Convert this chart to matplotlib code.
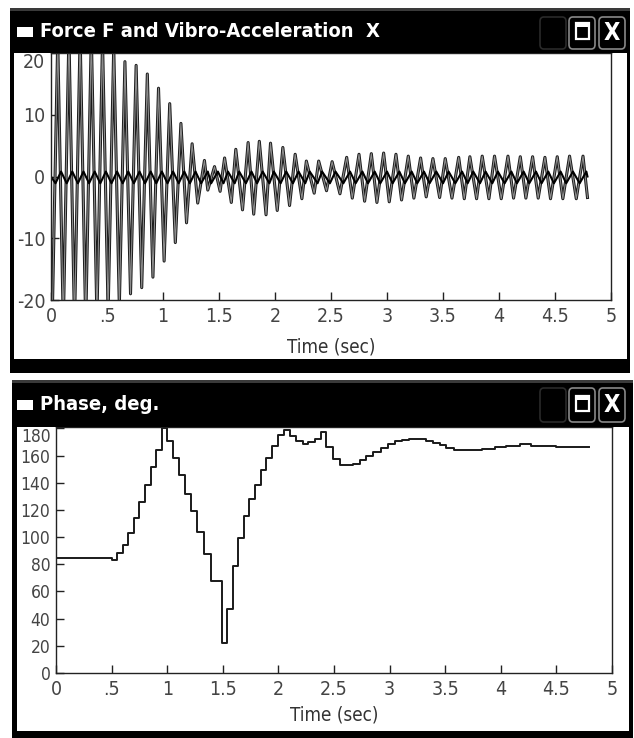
import matplotlib
matplotlib.use('Agg')
import matplotlib.pyplot as plt
import matplotlib.patheffects as pe
from matplotlib.patches import Rectangle, FancyBboxPatch

plt.rcParams['font.family'] = ['DejaVu Sans']
plt.rcParams['font.stretch'] = 'condensed'

W, H = 634, 738

# --- data ---
# vibro-acceleration X: times and values of the peaks / troughs of each cycle
acc_peak_t = [0.06, 0.16, 0.26, 0.36, 0.46, 0.56, 0.66, 0.76, 0.86, 0.96,
              1.06, 1.16, 1.26, 1.37, 1.46, 1.55, 1.65, 1.76, 1.86, 1.96,
              2.07, 2.18, 2.28, 2.39, 2.51, 2.64, 2.75, 2.86, 2.97, 3.08,
              3.19, 3.30, 3.41, 3.52, 3.64, 3.74, 3.85, 3.96, 4.08, 4.19,
              4.30, 4.41, 4.52, 4.63, 4.75]
acc_peak_v = [22, 23, 23, 23, 22, 21, 18.6, 18.0, 16.6, 14.3,
              11.8, 8.6, 5.3, 2.6, 1.6, 3.0, 4.4, 5.5, 5.7, 5.4,
              4.7, 3.6, 2.5, 2.5, 2.4, 3.1, 3.6, 3.7, 3.8, 3.6,
              3.3, 3.0, 2.9, 2.9, 3.1, 3.2, 3.3, 3.3, 3.3, 3.2,
              3.2, 3.1, 3.2, 3.3, 3.3]
acc_trough_t = [0.0, 0.01, 0.11, 0.21, 0.31, 0.41, 0.51, 0.61, 0.71, 0.81, 0.91,
                1.01, 1.11, 1.21, 1.31, 1.40, 1.51, 1.61, 1.71, 1.81, 1.92,
                2.02, 2.13, 2.24, 2.35, 2.46, 2.58, 2.69, 2.80, 2.91, 3.02,
                3.13, 3.24, 3.35, 3.47, 3.58, 3.69, 3.80, 3.91, 4.02, 4.13,
                4.24, 4.35, 4.46, 4.57, 4.69, 4.79]
acc_trough_v = [-15, -24, -24, -24, -24, -23, -22, -21, -19, -18, -16.3,
                -13.7, -10.7, -7.5, -4.3, -2.2, -2.4, -4.2, -5.4, -6.1, -6.2,
                -5.5, -4.7, -3.6, -2.7, -2.3, -2.8, -3.5, -4.0, -4.2, -4.1,
                -3.8, -3.5, -3.3, -3.4, -3.5, -3.6, -3.6, -3.6, -3.6, -3.5,
                -3.5, -3.5, -3.6, -3.6, -3.6, -3.4]
# force F: small steady oscillation, same cycles, slightly lagging
force_hi = 0.8
force_lo = -1.1
force_lag = 0.03

# phase, deg: staircase (start time of each step, value held)
phase_t = [0.00, 0.50, 0.55, 0.60, 0.65, 0.70, 0.75, 0.80, 0.85, 0.90,
           0.95, 1.00, 1.05, 1.11, 1.16, 1.21, 1.27, 1.33, 1.39, 1.49,
           1.54, 1.59, 1.64, 1.69, 1.74, 1.79, 1.84, 1.89, 1.94, 2.00,
           2.05, 2.10, 2.16, 2.22, 2.27, 2.33, 2.38, 2.43, 2.49, 2.55,
           2.67, 2.73, 2.79, 2.85, 2.92, 2.99, 3.05, 3.11, 3.17, 3.33,
           3.39, 3.45, 3.51, 3.58, 3.83, 3.95, 4.05, 4.17, 4.27, 4.50, 4.79]
phase_v = [84.7, 83.5, 88.0, 94.5, 103.0, 114.0, 125.6, 138.6, 151.6, 164.0,
           180.0, 170.5, 158.2, 145.5, 131.5, 119.0, 104.1, 87.9, 67.8, 21.8,
           47.3, 78.9, 99.4, 115.4, 127.8, 138.6, 149.6, 158.2, 167.0, 174.9,
           178.5, 174.1, 170.5, 168.7, 170.0, 172.0, 177.0, 166.5, 157.5, 152.8,
           154.0, 157.0, 159.4, 162.6, 165.8, 168.7, 170.8, 171.8, 172.4, 171.0,
           169.1, 167.5, 165.8, 164.3, 165.1, 166.3, 167.0, 168.2, 167.0, 166.3, 166.3]

xticks = [0, 0.5, 1, 1.5, 2, 2.5, 3, 3.5, 4, 4.5, 5]
xtick_labels = ['0', '.5', '1', '1.5', '2', '2.5', '3', '3.5', '4', '4.5', '5']
acc_yticks = [-20, -10, 0, 10, 20]
phase_yticks = [0, 20, 40, 60, 80, 100, 120, 140, 160, 180]

fig = plt.figure(figsize=(W / 100, H / 100), dpi=100)
fig.patch.set_facecolor('white')


def rect(x0, y0, x1, y1, **kw):
    p = Rectangle((x0 / W, 1 - y1 / H), (x1 - x0) / W, (y1 - y0) / H,
                  transform=fig.transFigure, **kw)
    fig.add_artist(p)
    return p


def button(x0, y0, x1, y1, edge):
    p = FancyBboxPatch((x0 / W, 1 - y1 / H), (x1 - x0) / W, (y1 - y0) / H,
                       boxstyle='round,pad=0,rounding_size=0.006',
                       transform=fig.transFigure, facecolor='black',
                       edgecolor=edge, linewidth=1.2, zorder=6)
    fig.add_artist(p)


def window(x0, y0, x1, y1, bar_bottom, inner, title, btn_y):
    rect(x0, y0, x1, y1, facecolor='black', edgecolor='none', zorder=-3)
    rect(*inner, facecolor='white', edgecolor='none', zorder=-2)
    rect(x0, y0, x1, bar_bottom, facecolor='black', edgecolor='none', zorder=5)
    rect(x0, y0, x1, y0 + 3, facecolor='#3a3a3a', edgecolor='none', zorder=5)
    # little window icon + caption
    mid = (y0 + bar_bottom) / 2 + 1
    rect(17, mid - 5, 33, mid + 5, facecolor='white', edgecolor='none', zorder=6)
    fig.text(40 / W, 1 - mid / H, title, color='white', fontsize=14.5,
             fontweight='bold', va='center', ha='left', zorder=7)
    b0, b1 = btn_y
    button(540, b0, 566, b1, '#2a2a2a')
    button(569, b0, 595, b1, '#888888')
    button(599, b0, 625, b1, '#888888')
    # maximise glyph
    rect(576, mid - 8, 589, mid + 7, facecolor='none', edgecolor='white',
         linewidth=1.6, zorder=7)
    rect(576, mid - 8, 589, mid - 5, facecolor='white', edgecolor='none', zorder=7)
    fig.text(612 / W, 1 - (mid + 1) / H, 'X', color='white', fontsize=17,
             fontweight='bold', va='center', ha='center', zorder=7)


def axes(x0, y0, x1, y1):
    return fig.add_axes([x0 / W, 1 - y1 / H, (x1 - x0) / W, (y1 - y0) / H])


def style(ax, ylim, yticks, ysize):
    ax.set_xlim(0, 5)
    ax.set_ylim(*ylim)
    ax.set_xticks(xticks)
    ax.set_xticklabels(xtick_labels)
    ax.set_yticks(yticks)
    ax.set_yticklabels([str(v) for v in yticks])
    ax.tick_params(direction='in', length=6, width=1, color='#222')
    ax.tick_params(axis='x', labelsize=14, labelcolor='#444', pad=5)
    ax.tick_params(axis='y', labelsize=ysize, labelcolor='#444', pad=4)
    for s in ax.spines.values():
        s.set_color('#222')
        s.set_linewidth(1)
    ax.yaxis.get_major_ticks()[-1].label1.set_verticalalignment('top')


# ---- top window: force & vibro-acceleration ----
window(10, 8, 630, 373, 53, (14, 53, 627, 359),
       'Force F and Vibro-Acceleration  X', (17, 49))
ax1 = axes(51, 53, 611, 300)
acc_t = sorted(acc_peak_t + acc_trough_t)
acc_map = dict(zip(acc_peak_t, acc_peak_v))
acc_map.update(zip(acc_trough_t, acc_trough_v))
acc_v = [acc_map[t] for t in acc_t]
ax1.plot(acc_t, acc_v, color='#8c8c8c', linewidth=0.8,
         path_effects=[pe.Stroke(linewidth=2.2, foreground='#1a1a1a'), pe.Normal()])
f_t = [0.0] + [t + force_lag for t in acc_t[1:-1]] + [acc_t[-1]]
f_v = [0.0] + [force_hi if acc_map[t] > 0 else force_lo for t in acc_t[1:-1]] + [0.0]
ax1.plot(f_t, f_v, color='black', linewidth=1.5)
style(ax1, (-20, 20), acc_yticks, 14)
fig.text(331 / W, 1 - 347 / H, 'Time (sec)', color='#333', fontsize=13.5,
         ha='center', va='center')

# ---- bottom window: phase ----
window(12, 380, 633, 738, 427, (17, 427, 629, 731), 'Phase, deg.', (388, 422))
ax2 = axes(56, 427, 612, 673)
ax2.step(phase_t, phase_v, where='post', color='#1a1a1a', linewidth=1.4)
style(ax2, (0, 181), phase_yticks, 12.5)
fig.text(334 / W, 1 - 715 / H, 'Time (sec)', color='#333', fontsize=13.5,
         ha='center', va='center')

fig.savefig('out.png', dpi=100, facecolor='white')
plt.close(fig)
